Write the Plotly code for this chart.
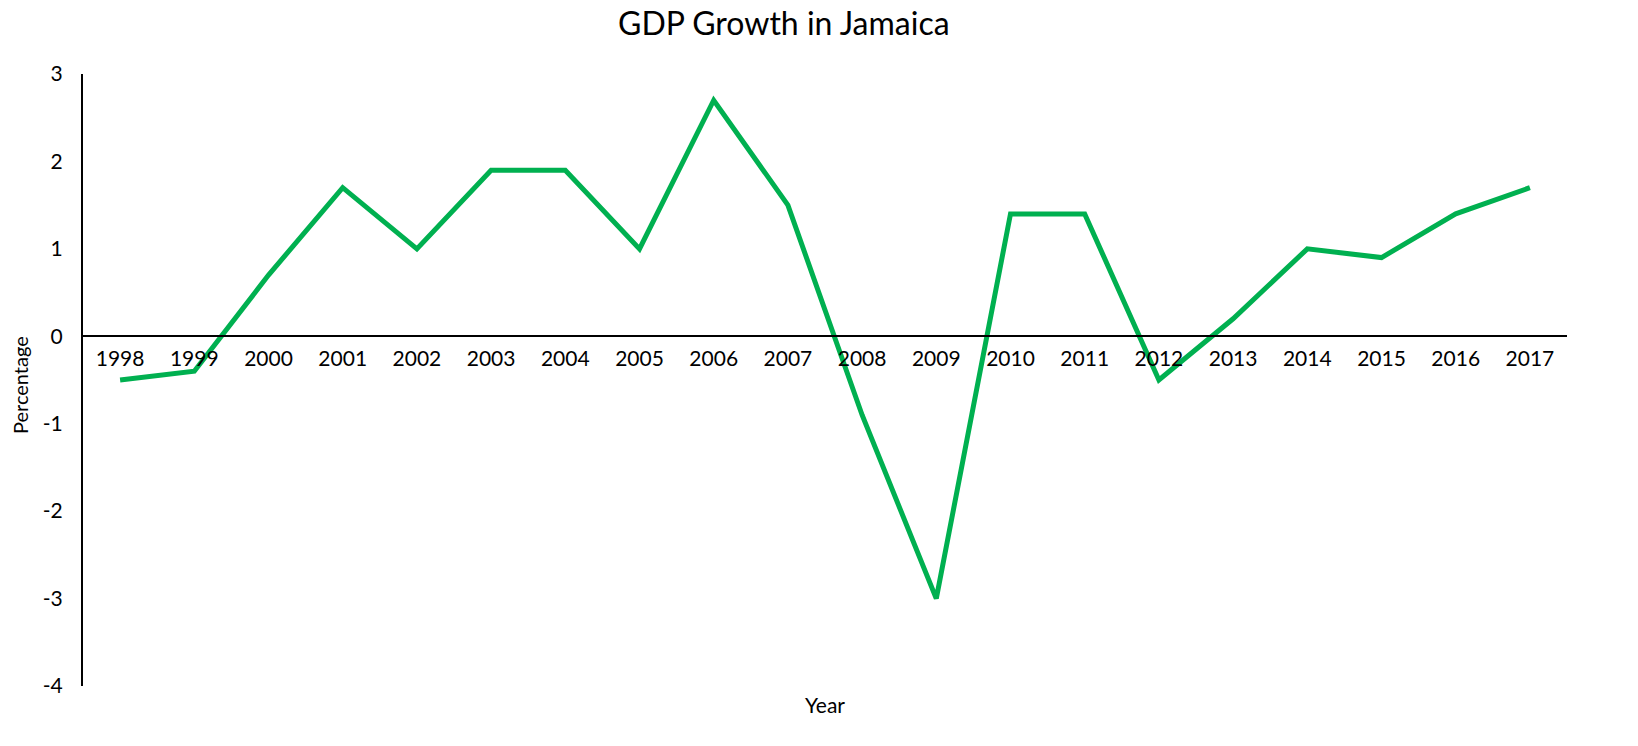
import plotly.graph_objects as go

years = [str(y) for y in range(1998, 2018)]
growth = [-0.5, -0.4, 0.7, 1.7, 1.0, 1.9, 1.9, 1.0, 2.7, 1.5,
          -0.9, -3.0, 1.4, 1.4, -0.5, 0.2, 1.0, 0.9, 1.4, 1.7]
y_ticks = [3, 2, 1, 0, -1, -2, -3, -4]
y_tick_text = ["3", "2", "1", "0", "-1", "-2", "-3", "-4"]

FONT = "Lato"
W, H = 1638, 746
ML, MR, MT, MB = 83, 71, 74, 60
pw = W - ML - MR
ph = H - MT - MB

fig = go.Figure()
fig.add_trace(go.Scatter(
    x=years, y=growth, mode="lines",
    line=dict(color="#00B050", width=5),
    hoverinfo="x+y", showlegend=False,
))

fig.update_layout(
    width=W, height=H,
    margin=dict(l=ML, r=MR, t=MT, b=MB),
    paper_bgcolor="white", plot_bgcolor="white",
    font=dict(family=FONT, color="black"),
    xaxis=dict(
        type="category", anchor="free", position=4 / 7,
        showline=True, linecolor="black", linewidth=2,
        showgrid=False, zeroline=False, ticks="",
        tickfont=dict(size=21, family=FONT, color="black"),
        ticklabelstandoff=4,
        range=[-0.5, len(years) - 0.5],
    ),
    yaxis=dict(
        range=[-4, 3], tickvals=y_ticks, ticktext=y_tick_text,
        showline=True, linecolor="black", linewidth=2,
        showgrid=False, zeroline=False, ticks="",
        tickfont=dict(size=21, family=FONT, color="black"),
        ticklabelstandoff=14,
    ),
    annotations=[
        dict(text="GDP Growth in Jamaica", xref="paper", yref="paper",
             x=(784 - ML) / pw, y=1 + (MT - 22) / ph, showarrow=False,
             xanchor="center", yanchor="middle",
             font=dict(size=32, family=FONT, color="black")),
        dict(text="Year", xref="paper", yref="paper",
             x=(825 - ML) / pw, y=-(705 - MT - ph) / ph, showarrow=False,
             xanchor="center", yanchor="middle",
             font=dict(size=21, family=FONT, color="black")),
        dict(text="Percentage", xref="paper", yref="paper",
             x=-(ML - 20) / pw, y=(MT + ph - 385) / ph, showarrow=False,
             xanchor="center", yanchor="middle", textangle=-90,
             font=dict(size=20, family=FONT, color="black")),
    ],
)

fig.write_html("out.html", config={"displayModeBar": False},
               post_script="document.body.style.margin='0';")
